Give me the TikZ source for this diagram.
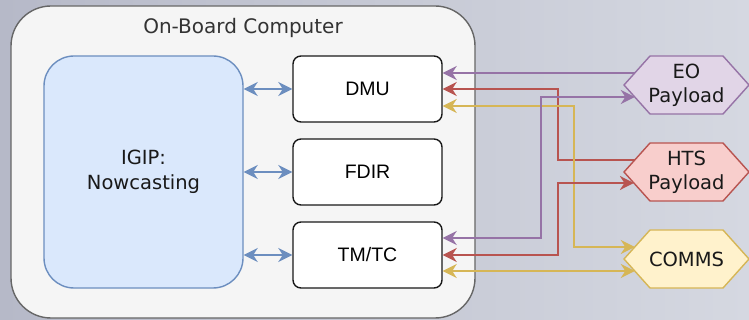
\documentclass[tikz,border=0pt]{standalone}
\usepackage{fontspec}
\setmainfont{DejaVu Sans}
\newfontfamily\arialfont{Liberation Sans}
\usetikzlibrary{arrows.meta,calc}
\definecolor{bgL}{HTML}{B6B9C8}
\definecolor{bgR}{HTML}{D5D8E1}
\definecolor{obcfill}{HTML}{F5F5F5}
\definecolor{obcline}{HTML}{666666}
\definecolor{bluefill}{HTML}{DAE8FC}
\definecolor{blueline}{HTML}{6C8EBF}
\definecolor{purpfill}{HTML}{E1D5E7}
\definecolor{purpline}{HTML}{9673A6}
\definecolor{redfill}{HTML}{F8CECC}
\definecolor{redline}{HTML}{B85450}
\definecolor{yelfill}{HTML}{FFF2CC}
\definecolor{yelline}{HTML}{D6B656}
\definecolor{titlegray}{HTML}{333333}
\tikzset{
  both/.style={arrows={Stealth[length=14pt,width=14pt,inset=4.5pt]-Stealth[length=14pt,width=14pt,inset=4.5pt]}},
  toend/.style={arrows={-Stealth[length=14pt,width=14pt,inset=4.5pt]}},
  obcbox/.style={draw=obcline,fill=obcfill,line width=1.4pt,rounded corners=40pt,minimum width=464pt,minimum height=312pt,inner sep=0pt},
  igipbox/.style={draw=blueline,fill=bluefill,line width=1.4pt,rounded corners=30pt,minimum width=199pt,minimum height=232pt,inner sep=0pt,align=center,font=\fontsize{19.5}{25}\selectfont,text=black!90},
  unitbox/.style={draw=black!90,fill=white,line width=1.4pt,rounded corners=8pt,minimum width=149pt,minimum height=66pt,inner sep=0pt,font=\arialfont\fontsize{19.5}{23}\selectfont},
  hexlabel/.style={align=center,inner sep=0pt,font=\fontsize{19.5}{24}\selectfont,text=black!90},
  hexline/.style={line width=1.4pt,line join=miter},
  blink/.style={draw=blueline,line width=2pt,both},
  conn/.style={line width=2pt},
}
\begin{document}
\begin{tikzpicture}[x=1pt,y=-1pt]
\useasboundingbox (0,0) rectangle (749,320);
\shade[left color=bgL,right color=bgR] (0,0) rectangle (749,320);
% On-board computer
\node[obcbox] (obc) at (243,162) {};
\node[font=\fontsize{20}{24}\selectfont,text=titlegray] (title) at (243,28) {On-Board Computer};
\node[igipbox] (igip) at (143.5,172) {IGIP:\\Nowcasting};
\node[unitbox] (dmu) at (367.5,89) {DMU};
\node[unitbox] (fdir) at (367.5,172) {FDIR};
\node[unitbox] (tmtc) at (367.5,255) {TM/TC};
\draw[blink] (igip.east |- dmu.west) -- (dmu.west);
\draw[blink] (igip.east |- fdir.west) -- (fdir.west);
\draw[blink] (igip.east |- tmtc.west) -- (tmtc.west);
% hexagons
\coordinate (eoc) at (686.5,85);
\coordinate (htsc) at (686.5,172);
\coordinate (commsc) at (686.5,259);
\draw[hexline,draw=purpline,fill=purpfill] (eoc) ++(-62.5,0) -- ++(26,-29) -- ++(73,0) -- ++(26,29) -- ++(-26,29) -- ++(-73,0) -- cycle;
\draw[hexline,draw=redline,fill=redfill] (htsc) ++(-62.5,0) -- ++(26,-29) -- ++(73,0) -- ++(26,29) -- ++(-26,29) -- ++(-73,0) -- cycle;
\draw[hexline,draw=yelline,fill=yelfill] (commsc) ++(-62.5,0) -- ++(26,-29) -- ++(73,0) -- ++(26,29) -- ++(-26,29) -- ++(-73,0) -- cycle;
\node[hexlabel] (eo) at (eoc) {EO\\Payload};
\node[hexlabel] (hts) at (htsc) {HTS\\Payload};
\node[hexlabel] (comms) at (commsc) {COMMS};
% connector end points on hexagon edges
\coordinate (eoA) at ($(eoc)+(-51.7,-12)$);
\coordinate (eoB) at ($(eoc)+(-51.7,12)$);
\coordinate (htsA) at ($(htsc)+(-51.7,-12)$);
\coordinate (htsB) at ($(htsc)+(-52.6,11)$);
\coordinate (commsA) at ($(commsc)+(-51.7,-12)$);
\coordinate (commsB) at ($(commsc)+(-51.7,12)$);
\coordinate (dmuP) at ($(dmu.east)+(0,-16)$);
\coordinate (dmuY) at ($(dmu.east)+(0,17)$);
\coordinate (tmP) at ($(tmtc.east)+(0,-17)$);
\coordinate (tmY) at ($(tmtc.east)+(0,16)$);
\coordinate (xP) at (541,0);
\coordinate (xR) at (558,0);
\coordinate (xY) at (574,0);
% connectors
\draw[conn,draw=purpline,toend] (eoA) -- (dmuP);
\draw[conn,draw=redline,toend] (htsA) -- (htsA -| xR) |- (dmu.east);
\draw[conn,draw=yelline,both] (dmuY) -- (dmuY -| xY) |- (commsA);
\draw[conn,draw=purpline,both] (tmP) -- (tmP -| xP) |- (eoB);
\draw[conn,draw=redline,both] (tmtc.east) -- (tmtc.east -| xR) |- (htsB);
\draw[conn,draw=yelline,both] (tmY) -- (commsB);
\end{tikzpicture}
\end{document}
